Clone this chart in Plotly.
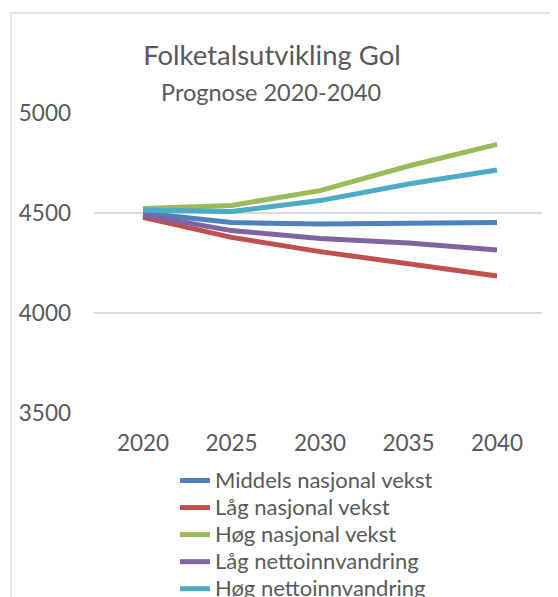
import plotly.graph_objects as go

years = [2020, 2025, 2030, 2035, 2040]

middels_nasjonal = [4500, 4452, 4445, 4448, 4452]
laag_nasjonal = [4478, 4378, 4307, 4245, 4185]
hoeg_nasjonal = [4523, 4538, 4612, 4735, 4843]
laag_netto = [4490, 4412, 4373, 4350, 4315]
hoeg_netto = [4515, 4507, 4562, 4645, 4715]

series = [
    ("Middels nasjonal vekst", middels_nasjonal, "#4F81BD"),
    ("Låg nasjonal vekst", laag_nasjonal, "#C0504D"),
    ("Høg nasjonal vekst", hoeg_nasjonal, "#9BBB59"),
    ("Låg nettoinnvandring", laag_netto, "#8064A2"),
    ("Høg nettoinnvandring", hoeg_netto, "#4BACC6"),
]

FONT = "Lato"
GREY = "#595959"

# plot area in figure pixels (page body adds 8px)
L, R, T, B = 86, 534, 105, 405
W, H = 558, 597

fig = go.Figure()
for name, vals, col in series:
    fig.add_trace(go.Scatter(x=years, y=vals, mode="lines",
                             name=f'<span style="font-size:22px">{name}</span>',
                             line=dict(color=col, width=5)))

fig.update_layout(
    width=W, height=H,
    margin=dict(l=L, r=W - R, t=T, b=H - B, autoexpand=False),
    paper_bgcolor="white", plot_bgcolor="white",
    font=dict(family=FONT, color=GREY, size=22),
    title=dict(text="Folketalsutvikling Gol", x=264 / W, xanchor="center",
               y=1 - 47 / H, yanchor="middle",
               font=dict(family=FONT, size=27.5, color=GREY)),
    showlegend=True,
    legend=dict(x=(167 - L) / (R - L), xanchor="left", y=-(454 - B) / (B - T), yanchor="top",
                font=dict(family=FONT, size=18.5, color=GREY), bgcolor="rgba(0,0,0,0)",
                tracegroupgap=0),
)

fig.update_xaxes(range=[2017.23, 2042.54], tickvals=years, showgrid=False, zeroline=False,
                 showline=False, ticks="", ticklabelstandoff=14,
                 tickfont=dict(size=22.5))
fig.update_yaxes(range=[3500, 5000], tickvals=[3500, 4000, 4500, 5000], showgrid=True,
                 gridcolor="#d9d9d9", gridwidth=1.5, zeroline=False, showline=False,
                 ticks="", ticklabelstandoff=22, tickfont=dict(size=22.5))

fig.add_annotation(text="Prognose 2020-2040", xref="paper", yref="paper",
                   x=(263 - L) / (R - L), y=(B - 84) / (B - T), xanchor="center", yanchor="middle",
                   showarrow=False, font=dict(family=FONT, size=23.5, color=GREY))

# chart border
fig.add_shape(type="rect", xref="paper", yref="paper",
              x0=(3 - L) / (R - L), x1=2, y0=-2, y1=(B - 5) / (B - T),
              line=dict(color="#d9d9d9", width=1.5), layer="below")

fig.write_html("out.html")
